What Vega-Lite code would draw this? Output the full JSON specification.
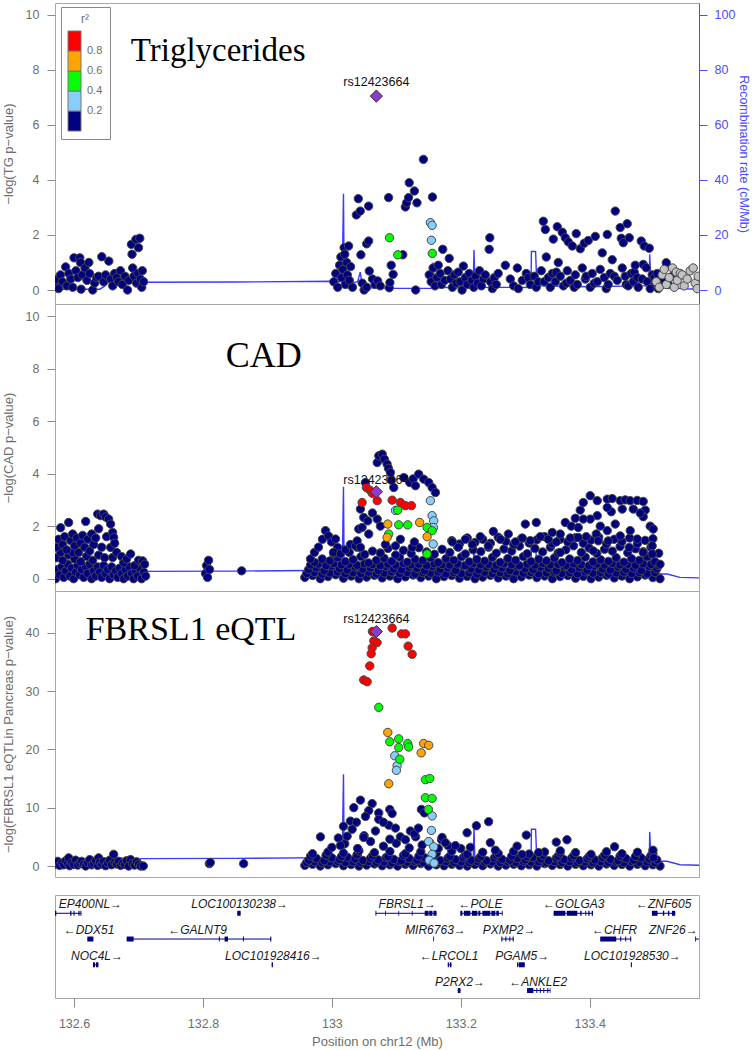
{
"$schema":"https://vega.github.io/schema/vega-lite/v6.json",
"padding":{"left":1,"top":2,"right":0,"bottom":0},
"config":{"view":{"stroke":"#a8a8a8","strokeWidth":1},"font":"Liberation Sans","axis":{"grid":false,"labelFont":"Liberation Sans","titleFont":"Liberation Sans","titleFontWeight":"normal"}},
"datasets":{
"recomb":[{"pos":132.5705,"rate":0.3},{"pos":132.64,"rate":0.3},{"pos":132.648,"rate":1.5},{"pos":132.655,"rate":3.2},{"pos":132.68,"rate":3.0},{"pos":132.7,"rate":2.9},{"pos":132.701,"rate":0.3},{"pos":132.703,"rate":2.8},{"pos":132.85,"rate":2.9},{"pos":133.0,"rate":3.2},{"pos":133.016,"rate":3.0},{"pos":133.018,"rate":35},{"pos":133.019,"rate":4.0},{"pos":133.03,"rate":2.5},{"pos":133.04,"rate":3.0},{"pos":133.044,"rate":6.5},{"pos":133.047,"rate":2.0},{"pos":133.06,"rate":0.8},{"pos":133.1,"rate":0.6},{"pos":133.155,"rate":0.6},{"pos":133.157,"rate":10},{"pos":133.159,"rate":1.0},{"pos":133.2,"rate":0.8},{"pos":133.219,"rate":0.8},{"pos":133.2205,"rate":14.5},{"pos":133.222,"rate":1.0},{"pos":133.309,"rate":0.9},{"pos":133.3095,"rate":14},{"pos":133.316,"rate":14},{"pos":133.318,"rate":1.5},{"pos":133.4,"rate":1.2},{"pos":133.474,"rate":1.5},{"pos":133.475,"rate":6},{"pos":133.477,"rate":1.5},{"pos":133.4925,"rate":1.5},{"pos":133.493,"rate":13},{"pos":133.495,"rate":2.5},{"pos":133.5,"rate":2.0},{"pos":133.505,"rate":3.0},{"pos":133.51,"rate":1.8},{"pos":133.52,"rate":1.8},{"pos":133.54,"rate":0.5},{"pos":133.5695,"rate":0.3}],
"tg":[{"pos":132.572,"p":0.2},{"pos":132.573,"p":0.39},{"pos":132.576,"p":0.05},{"pos":132.579,"p":0.55},{"pos":132.582,"p":0.3},{"pos":132.587,"p":0.84},{"pos":132.589,"p":0.15},{"pos":132.592,"p":0.6},{"pos":132.595,"p":0.4},{"pos":132.598,"p":0.1},{"pos":132.6,"p":1.17},{"pos":132.603,"p":0.7},{"pos":132.606,"p":0.45},{"pos":132.609,"p":1.17},{"pos":132.61,"p":1.0},{"pos":132.611,"p":0.03},{"pos":132.613,"p":0.55},{"pos":132.617,"p":0.8},{"pos":132.62,"p":0.35},{"pos":132.623,"p":1.0},{"pos":132.624,"p":0.6},{"pos":132.629,"p":0.0},{"pos":132.632,"p":0.25},{"pos":132.635,"p":0.45},{"pos":132.638,"p":0.5},{"pos":132.643,"p":1.21},{"pos":132.646,"p":0.3},{"pos":132.649,"p":0.55},{"pos":132.654,"p":1.05},{"pos":132.657,"p":0.4},{"pos":132.66,"p":0.15},{"pos":132.663,"p":0.6},{"pos":132.666,"p":0.45},{"pos":132.669,"p":0.3},{"pos":132.672,"p":0.7},{"pos":132.675,"p":0.2},{"pos":132.679,"p":0.5},{"pos":132.683,"p":0.0},{"pos":132.685,"p":0.35},{"pos":132.689,"p":1.66},{"pos":132.69,"p":1.3},{"pos":132.691,"p":0.8},{"pos":132.693,"p":0.5},{"pos":132.696,"p":1.84},{"pos":132.697,"p":0.25},{"pos":132.699,"p":0.6},{"pos":132.7,"p":1.54},{"pos":132.702,"p":1.88},{"pos":132.703,"p":0.4},{"pos":132.705,"p":0.1},{"pos":132.706,"p":0.7},{"pos":132.708,"p":0.3},
{"pos":133.003,"p":0.3},{"pos":133.006,"p":0.6},{"pos":133.009,"p":0.1},{"pos":133.012,"p":0.9},{"pos":133.014,"p":1.2},{"pos":133.015,"p":0.45},{"pos":133.017,"p":0.75},{"pos":133.019,"p":1.54},{"pos":133.02,"p":1.3},{"pos":133.021,"p":0.2},{"pos":133.023,"p":1.0},{"pos":133.024,"p":0.55},{"pos":133.026,"p":1.6},{"pos":133.027,"p":0.35},{"pos":133.029,"p":0.85},{"pos":133.032,"p":0.1},{"pos":133.038,"p":2.73},{"pos":133.041,"p":3.32},{"pos":133.044,"p":2.87},{"pos":133.045,"p":1.28},{"pos":133.047,"p":0.25},{"pos":133.05,"p":0.0},{"pos":133.054,"p":1.68},{"pos":133.054,"p":0.1},{"pos":133.057,"p":3.05},{"pos":133.057,"p":1.78},{"pos":133.058,"p":0.69},{"pos":133.063,"p":0.4},{"pos":133.067,"p":0.2},{"pos":133.071,"p":0.33},{"pos":133.075,"p":0.15},{"pos":133.088,"p":3.36},{"pos":133.089,"p":0.08},{"pos":133.09,"p":0.27},{"pos":133.092,"p":0.9},{"pos":133.095,"p":0.57},{"pos":133.11,"p":1.28},{"pos":133.114,"p":3.02},{"pos":133.116,"p":3.17},{"pos":133.119,"p":3.36},{"pos":133.12,"p":3.9},{"pos":133.128,"p":3.6},{"pos":133.13,"p":0.0},{"pos":133.132,"p":3.17},{"pos":133.142,"p":4.75},{"pos":133.151,"p":0.55},{"pos":133.154,"p":0.3},{"pos":133.156,"p":3.38},{"pos":133.157,"p":0.8},{"pos":133.16,"p":0.15},{"pos":133.163,"p":0.45},{"pos":133.165,"p":0.9},{"pos":133.168,"p":0.6},{"pos":133.17,"p":0.2},{"pos":133.172,"p":1.48},{"pos":133.175,"p":0.35},{"pos":133.18,"p":0.7},{"pos":133.182,"p":1.15},{"pos":133.184,"p":0.4},{"pos":133.187,"p":0.1},{"pos":133.19,"p":0.55},{"pos":133.193,"p":0.25},{"pos":133.196,"p":0.65},{"pos":133.199,"p":0.3},{"pos":133.202,"p":0.0},{"pos":133.204,"p":0.87},{"pos":133.207,"p":0.45},{"pos":133.21,"p":0.2},{"pos":133.213,"p":0.6},{"pos":133.217,"p":0.35},{"pos":133.22,"p":0.1},{"pos":133.223,"p":0.5},{"pos":133.226,"p":0.25},{"pos":133.229,"p":0.7},{"pos":133.232,"p":0.15},{"pos":133.235,"p":0.4},{"pos":133.238,"p":0.55},{"pos":133.244,"p":1.48},{"pos":133.245,"p":1.9},{"pos":133.246,"p":0.3},{"pos":133.249,"p":0.05},{"pos":133.252,"p":0.45},{"pos":133.255,"p":0.2},{"pos":133.258,"p":0.6},
{"pos":133.2691,"p":0.9},{"pos":133.2768,"p":0.4},{"pos":133.282,"p":0.15},{"pos":133.2877,"p":0.8},{"pos":133.2892,"p":0.05},{"pos":133.2954,"p":0.35},{"pos":133.3016,"p":0.6},{"pos":133.3047,"p":0.45},{"pos":133.3078,"p":0.2},{"pos":133.314,"p":0.5},{"pos":133.3171,"p":0.1},{"pos":133.3202,"p":0.3},{"pos":133.3249,"p":0.7},{"pos":133.328,"p":2.5},{"pos":133.3295,"p":0.3},{"pos":133.3311,"p":2.2},{"pos":133.3326,"p":1.2},{"pos":133.3357,"p":0.45},{"pos":133.3388,"p":0.1},{"pos":133.3419,"p":0.6},{"pos":133.3435,"p":1.85},{"pos":133.3466,"p":0.3},{"pos":133.3481,"p":0.65},{"pos":133.3497,"p":2.3},{"pos":133.3512,"p":1.0},{"pos":133.3543,"p":0.5},{"pos":133.3574,"p":2.1},{"pos":133.359,"p":0.15},{"pos":133.3621,"p":1.9},{"pos":133.3636,"p":0.25},{"pos":133.3652,"p":0.7},{"pos":133.3667,"p":1.75},{"pos":133.3698,"p":0.35},{"pos":133.3729,"p":1.6},{"pos":133.376,"p":0.1},{"pos":133.3776,"p":0.55},{"pos":133.3791,"p":2.05},{"pos":133.3807,"p":0.2},{"pos":133.3853,"p":1.5},{"pos":133.3884,"p":0.8},{"pos":133.3915,"p":1.7},{"pos":133.3931,"p":0.4},{"pos":133.3946,"p":0.5},{"pos":133.3977,"p":1.8},{"pos":133.4008,"p":0.1},{"pos":133.4039,"p":0.6},{"pos":133.407,"p":0.25},{"pos":133.4086,"p":1.95},{"pos":133.4117,"p":0.3},{"pos":133.4163,"p":0.75},{"pos":133.4194,"p":1.35},{"pos":133.4225,"p":0.45},{"pos":133.4256,"p":0.05},{"pos":133.4272,"p":2.02},{"pos":133.4287,"p":0.2},{"pos":133.4318,"p":0.6},{"pos":133.4349,"p":1.1},{"pos":133.438,"p":0.5},{"pos":133.4396,"p":2.87},{"pos":133.4427,"p":0.35},{"pos":133.4473,"p":2.27},{"pos":133.4489,"p":1.88},{"pos":133.4504,"p":0.8},{"pos":133.452,"p":1.72},{"pos":133.4551,"p":0.5},{"pos":133.4566,"p":0.2},{"pos":133.4582,"p":2.41},{"pos":133.4597,"p":0.15},{"pos":133.4613,"p":1.9},{"pos":133.4644,"p":0.6},{"pos":133.4675,"p":0.3},{"pos":133.469,"p":0.65},{"pos":133.4706,"p":0.9},{"pos":133.4737,"p":0.45},{"pos":133.4752,"p":0.1},{"pos":133.4799,"p":1.78},{"pos":133.4814,"p":0.4},{"pos":133.483,"p":0.93},{"pos":133.4845,"p":1.6},{"pos":133.4876,"p":0.81},{"pos":133.4892,"p":0.3},{"pos":133.4923,"p":1.52},{"pos":133.4938,"p":0.05},{"pos":133.4969,"p":0.55},{"pos":133.5,"p":0.45},{"pos":133.5016,"p":0.25},{"pos":133.5047,"p":0.6},{"pos":133.5062,"p":0.05},{"pos":133.5093,"p":0.15},{"pos":133.514,"p":0.4},{"pos":133.5187,"p":0.99},{"pos":133.5218,"p":0.2},{"pos":133.528,"p":0.5},
{"pos":133.5031,"p":0.3,"ld":"NA"},{"pos":133.5078,"p":0.1,"ld":"NA"},{"pos":133.5124,"p":0.55,"ld":"NA"},{"pos":133.5155,"p":0.75,"ld":"NA"},{"pos":133.519,"p":0.2,"ld":"NA"},{"pos":133.5233,"p":0.45,"ld":"NA"},{"pos":133.5285,"p":0.8,"ld":"NA"},{"pos":133.5311,"p":0.1,"ld":"NA"},{"pos":133.5342,"p":0.65,"ld":"NA"},{"pos":133.5357,"p":0.35,"ld":"NA"},{"pos":133.5403,"p":0.6,"ld":"NA"},{"pos":133.5434,"p":0.55,"ld":"NA"},{"pos":133.5465,"p":0.15,"ld":"NA"},{"pos":133.5512,"p":0.4,"ld":"NA"},{"pos":133.5558,"p":0.7,"ld":"NA"},{"pos":133.5605,"p":0.8,"ld":"NA"},{"pos":133.5636,"p":0.25,"ld":"NA"},{"pos":133.5667,"p":0.05,"ld":"NA"},{"pos":133.5682,"p":0.5,"ld":"NA"}],
"tg_ld":[{"pos":133.1528,"p":2.45,"r2":0.3},{"pos":133.1555,"p":2.35,"r2":0.3},{"pos":133.1544,"p":1.81,"r2":0.3},{"pos":133.0893,"p":1.9,"r2":0.5},{"pos":133.1022,"p":1.28,"r2":0.5},{"pos":133.1558,"p":1.33,"r2":0.5}],
"cad":[{"pos":132.5716,"p":0.0},{"pos":132.5747,"p":0.35},{"pos":132.5778,"p":0.15},{"pos":132.5809,"p":0.45},{"pos":132.584,"p":0.05},{"pos":132.5871,"p":0.3},{"pos":132.5902,"p":0.55},{"pos":132.5933,"p":0.1},{"pos":132.5964,"p":0.4},{"pos":132.5995,"p":0.0},{"pos":132.6026,"p":0.25},{"pos":132.6057,"p":0.5},{"pos":132.6088,"p":0.15},{"pos":132.6119,"p":0.35},{"pos":132.615,"p":0.05},{"pos":132.6181,"p":0.45},{"pos":132.6212,"p":0.2},{"pos":132.6243,"p":0.55},{"pos":132.6274,"p":0.0},{"pos":132.6305,"p":0.3},{"pos":132.6336,"p":0.1},{"pos":132.6367,"p":0.45},{"pos":132.6398,"p":0.25},{"pos":132.6429,"p":0.05},{"pos":132.646,"p":0.5},{"pos":132.6491,"p":0.2},{"pos":132.6522,"p":0.35},{"pos":132.6553,"p":0.0},{"pos":132.6584,"p":0.45},{"pos":132.6615,"p":0.15},{"pos":132.6646,"p":0.3},{"pos":132.6677,"p":0.05},{"pos":132.6708,"p":0.4},{"pos":132.6739,"p":0.2},{"pos":132.677,"p":0.0},{"pos":132.6801,"p":0.35},{"pos":132.6832,"p":0.1},{"pos":132.6863,"p":0.45},{"pos":132.6894,"p":0.2},{"pos":132.6925,"p":0.0},{"pos":132.6956,"p":0.3},{"pos":132.6987,"p":0.1},{"pos":132.7018,"p":0.4},{"pos":132.7049,"p":0.0},{"pos":132.708,"p":0.25},{"pos":132.7111,"p":0.1},
{"pos":132.5731,"p":0.8},{"pos":132.5824,"p":0.7},{"pos":132.5917,"p":0.9},{"pos":132.601,"p":0.75},{"pos":132.6103,"p":0.65},{"pos":132.6196,"p":0.85},{"pos":132.6289,"p":0.7},{"pos":132.6382,"p":0.9},{"pos":132.6475,"p":0.8},{"pos":132.5793,"p":1.0},{"pos":132.5979,"p":1.0},{"pos":132.6227,"p":1.1},
{"pos":132.5731,"p":1.2},{"pos":132.5762,"p":1.5},{"pos":132.5793,"p":1.94},{"pos":132.5824,"p":1.3},{"pos":132.5855,"p":1.6},{"pos":132.5886,"p":1.1},{"pos":132.5917,"p":2.14},{"pos":132.5948,"p":1.45},{"pos":132.5979,"p":1.7},{"pos":132.601,"p":1.25},{"pos":132.6041,"p":1.55},{"pos":132.6072,"p":1.0},{"pos":132.6103,"p":1.35},{"pos":132.6134,"p":1.65},{"pos":132.6165,"p":1.2},{"pos":132.6181,"p":2.18},{"pos":132.6212,"p":1.5},{"pos":132.6243,"p":1.05},{"pos":132.6274,"p":1.7},{"pos":132.6305,"p":1.3},{"pos":132.6336,"p":1.55},{"pos":132.6367,"p":2.46},{"pos":132.6382,"p":1.9},{"pos":132.6413,"p":2.4},{"pos":132.6429,"p":1.2},{"pos":132.646,"p":2.46},{"pos":132.6491,"p":2.35},{"pos":132.6506,"p":1.6},{"pos":132.6537,"p":2.27},{"pos":132.6568,"p":2.08},{"pos":132.6599,"p":1.76},{"pos":132.6615,"p":1.57},{"pos":132.6568,"p":1.19},{"pos":132.6599,"p":0.81},{"pos":132.663,"p":1.35},{"pos":132.6661,"p":1.0},{"pos":132.6739,"p":0.84},{"pos":132.677,"p":0.6},{"pos":132.6816,"p":0.75},{"pos":132.6878,"p":0.94},{"pos":132.694,"p":0.5},{"pos":132.7002,"p":0.7},{"pos":132.7064,"p":0.68},{"pos":132.7095,"p":0.55},
{"pos":132.804,"p":0.2},{"pos":132.8056,"p":0.5},{"pos":132.8071,"p":0.05},{"pos":132.8087,"p":0.7},{"pos":132.8102,"p":0.35},{"pos":132.86,"p":0.3},
{"pos":132.958,"p":0.05},{"pos":132.97,"p":0.12},{"pos":132.982,"p":0.0},{"pos":132.994,"p":0.08},{"pos":133.006,"p":0.15},{"pos":133.018,"p":0.02},{"pos":133.03,"p":0.1},{"pos":133.042,"p":0.0},{"pos":133.054,"p":0.06},{"pos":133.066,"p":0.13},{"pos":133.078,"p":0.03},{"pos":133.09,"p":0.1},{"pos":133.102,"p":0.0},{"pos":133.114,"p":0.07},{"pos":133.126,"p":0.14},{"pos":133.138,"p":0.04},{"pos":133.15,"p":0.1},{"pos":133.162,"p":0.0},{"pos":133.174,"p":0.08},{"pos":133.186,"p":0.12},{"pos":133.198,"p":0.02},{"pos":133.21,"p":0.09},{"pos":133.222,"p":0.0},{"pos":133.234,"p":0.06},{"pos":133.246,"p":0.13},{"pos":133.258,"p":0.03},{"pos":133.27,"p":0.1},{"pos":133.282,"p":0.0},{"pos":133.294,"p":0.07},{"pos":133.306,"p":0.14},{"pos":133.318,"p":0.04},{"pos":133.33,"p":0.1},{"pos":133.342,"p":0.0},{"pos":133.354,"p":0.08},{"pos":133.366,"p":0.12},{"pos":133.378,"p":0.02},{"pos":133.39,"p":0.09},{"pos":133.402,"p":0.0},{"pos":133.414,"p":0.06},{"pos":133.426,"p":0.13},{"pos":133.438,"p":0.03},{"pos":133.45,"p":0.1},{"pos":133.462,"p":0.0},{"pos":133.474,"p":0.07},{"pos":133.486,"p":0.14},{"pos":133.498,"p":0.04},{"pos":133.509,"p":0.0},
{"pos":132.961,"p":0.2},{"pos":132.973,"p":0.24},{"pos":132.985,"p":0.18},{"pos":132.997,"p":0.22},{"pos":133.009,"p":0.26},{"pos":133.021,"p":0.19},{"pos":133.033,"p":0.23},{"pos":133.045,"p":0.2},{"pos":133.057,"p":0.25},{"pos":133.069,"p":0.18},{"pos":133.081,"p":0.22},{"pos":133.093,"p":0.26},{"pos":133.105,"p":0.2},{"pos":133.117,"p":0.24},{"pos":133.129,"p":0.18},{"pos":133.141,"p":0.23},{"pos":133.153,"p":0.21},{"pos":133.165,"p":0.26},{"pos":133.177,"p":0.19},{"pos":133.189,"p":0.24},{"pos":133.201,"p":0.2},{"pos":133.213,"p":0.22},{"pos":133.225,"p":0.18},{"pos":133.237,"p":0.25},{"pos":133.249,"p":0.2},{"pos":133.261,"p":0.23},{"pos":133.273,"p":0.19},{"pos":133.285,"p":0.26},{"pos":133.297,"p":0.21},{"pos":133.309,"p":0.24},{"pos":133.321,"p":0.18},{"pos":133.333,"p":0.22},{"pos":133.345,"p":0.25},{"pos":133.357,"p":0.2},{"pos":133.369,"p":0.23},{"pos":133.381,"p":0.19},{"pos":133.393,"p":0.26},{"pos":133.405,"p":0.21},{"pos":133.417,"p":0.24},{"pos":133.429,"p":0.18},{"pos":133.441,"p":0.22},{"pos":133.453,"p":0.25},{"pos":133.465,"p":0.2},{"pos":133.477,"p":0.23},{"pos":133.489,"p":0.19},{"pos":133.501,"p":0.24},
{"pos":132.964,"p":0.35},{"pos":132.976,"p":0.42},{"pos":132.988,"p":0.3},{"pos":133.0,"p":0.48},{"pos":133.012,"p":0.38},{"pos":133.024,"p":0.33},{"pos":133.036,"p":0.45},{"pos":133.048,"p":0.36},{"pos":133.06,"p":0.41},{"pos":133.072,"p":0.31},{"pos":133.084,"p":0.47},{"pos":133.096,"p":0.37},{"pos":133.108,"p":0.34},{"pos":133.12,"p":0.44},{"pos":133.132,"p":0.39},{"pos":133.144,"p":0.3},{"pos":133.156,"p":0.46},{"pos":133.168,"p":0.35},{"pos":133.18,"p":0.42},{"pos":133.192,"p":0.32},{"pos":133.204,"p":0.48},{"pos":133.216,"p":0.37},{"pos":133.228,"p":0.33},{"pos":133.24,"p":0.45},{"pos":133.252,"p":0.36},{"pos":133.264,"p":0.41},{"pos":133.276,"p":0.31},{"pos":133.288,"p":0.47},{"pos":133.3,"p":0.38},{"pos":133.312,"p":0.34},{"pos":133.324,"p":0.44},{"pos":133.336,"p":0.39},{"pos":133.348,"p":0.3},{"pos":133.36,"p":0.46},{"pos":133.372,"p":0.35},{"pos":133.384,"p":0.42},{"pos":133.396,"p":0.32},{"pos":133.408,"p":0.48},{"pos":133.42,"p":0.37},{"pos":133.432,"p":0.33},{"pos":133.444,"p":0.45},{"pos":133.456,"p":0.36},{"pos":133.468,"p":0.41},{"pos":133.48,"p":0.31},{"pos":133.492,"p":0.47},{"pos":133.504,"p":0.38},
{"pos":132.967,"p":0.52},{"pos":132.979,"p":0.56},{"pos":132.991,"p":0.5},{"pos":133.003,"p":0.58},{"pos":133.015,"p":0.53},{"pos":133.027,"p":0.55},{"pos":133.039,"p":0.51},{"pos":133.051,"p":0.57},{"pos":133.063,"p":0.54},{"pos":133.075,"p":0.5},{"pos":133.087,"p":0.56},{"pos":133.099,"p":0.52},{"pos":133.111,"p":0.58},{"pos":133.123,"p":0.53},{"pos":133.135,"p":0.55},{"pos":133.147,"p":0.5},{"pos":133.159,"p":0.57},{"pos":133.171,"p":0.54},{"pos":133.183,"p":0.52},{"pos":133.195,"p":0.56},{"pos":133.207,"p":0.5},{"pos":133.219,"p":0.58},{"pos":133.231,"p":0.53},{"pos":133.243,"p":0.55},{"pos":133.255,"p":0.51},{"pos":133.267,"p":0.57},{"pos":133.279,"p":0.54},{"pos":133.291,"p":0.5},{"pos":133.303,"p":0.56},{"pos":133.315,"p":0.52},{"pos":133.327,"p":0.58},{"pos":133.339,"p":0.53},{"pos":133.351,"p":0.55},{"pos":133.363,"p":0.51},{"pos":133.375,"p":0.57},{"pos":133.387,"p":0.54},{"pos":133.399,"p":0.5},{"pos":133.411,"p":0.56},{"pos":133.423,"p":0.52},{"pos":133.435,"p":0.58},{"pos":133.447,"p":0.53},{"pos":133.459,"p":0.55},{"pos":133.471,"p":0.51},{"pos":133.483,"p":0.57},{"pos":133.495,"p":0.54},{"pos":133.507,"p":0.5},
{"pos":132.973,"p":0.62},{"pos":132.985,"p":0.75},{"pos":132.997,"p":0.68},{"pos":133.009,"p":0.8},{"pos":133.021,"p":0.65},{"pos":133.033,"p":0.72},{"pos":133.045,"p":0.84},{"pos":133.057,"p":0.6},{"pos":133.069,"p":0.7},{"pos":133.081,"p":0.78},{"pos":133.093,"p":0.66},{"pos":133.105,"p":0.82},{"pos":133.117,"p":0.63},{"pos":133.129,"p":0.74},{"pos":133.141,"p":0.69},{"pos":133.153,"p":0.8},{"pos":133.165,"p":0.61},{"pos":133.177,"p":0.76},{"pos":133.189,"p":0.7},{"pos":133.201,"p":0.83},{"pos":133.213,"p":0.64},{"pos":133.225,"p":0.73},{"pos":133.237,"p":0.67},{"pos":133.249,"p":0.81},{"pos":133.261,"p":0.62},{"pos":133.273,"p":0.77},{"pos":133.285,"p":0.7},{"pos":133.297,"p":0.84},{"pos":133.309,"p":0.65},{"pos":133.321,"p":0.74},{"pos":133.333,"p":0.68},{"pos":133.345,"p":0.79},{"pos":133.357,"p":0.61},{"pos":133.369,"p":0.75},{"pos":133.381,"p":0.69},{"pos":133.393,"p":0.82},{"pos":133.405,"p":0.64},{"pos":133.417,"p":0.72},{"pos":133.429,"p":0.66},{"pos":133.441,"p":0.8},{"pos":133.453,"p":0.63},{"pos":133.465,"p":0.76},{"pos":133.477,"p":0.7},{"pos":133.489,"p":0.83},{"pos":133.501,"p":0.65},{"pos":133.509,"p":0.55},
{"pos":133.003,"p":0.95},{"pos":133.015,"p":1.1},{"pos":133.027,"p":1.0},{"pos":133.039,"p":1.2},{"pos":133.051,"p":0.92},{"pos":133.063,"p":1.05},{"pos":133.075,"p":0.98},{"pos":133.087,"p":1.15},{"pos":133.099,"p":0.9},{"pos":133.111,"p":1.08},{"pos":133.123,"p":0.96},{"pos":133.135,"p":1.18},{"pos":133.147,"p":1.02},{"pos":133.159,"p":0.93},{"pos":133.171,"p":1.12},{"pos":133.183,"p":1.0},{"pos":133.195,"p":1.22},{"pos":133.207,"p":0.94},{"pos":133.219,"p":1.1},{"pos":133.231,"p":1.03},{"pos":133.243,"p":1.2},{"pos":133.255,"p":0.97},{"pos":133.267,"p":1.13},{"pos":133.279,"p":1.05},{"pos":133.291,"p":1.24},{"pos":133.303,"p":0.95},{"pos":133.315,"p":1.15},{"pos":133.327,"p":1.02},{"pos":133.339,"p":1.2},{"pos":133.351,"p":0.98},{"pos":133.363,"p":1.1},{"pos":133.375,"p":1.25},{"pos":133.387,"p":1.0},{"pos":133.399,"p":1.17},{"pos":133.411,"p":0.96},{"pos":133.423,"p":1.12},{"pos":133.435,"p":1.05},{"pos":133.447,"p":1.22},{"pos":133.459,"p":0.99},{"pos":133.471,"p":1.14},{"pos":133.483,"p":1.03},{"pos":133.495,"p":1.2},{"pos":133.507,"p":0.97},
{"pos":133.186,"p":1.45},{"pos":133.198,"p":1.32},{"pos":133.21,"p":1.55},{"pos":133.222,"p":1.38},{"pos":133.234,"p":1.5},{"pos":133.246,"p":1.35},{"pos":133.258,"p":1.58},{"pos":133.27,"p":1.42},{"pos":133.282,"p":1.3},{"pos":133.294,"p":1.52},{"pos":133.306,"p":1.36},{"pos":133.318,"p":1.48},{"pos":133.33,"p":1.6},{"pos":133.342,"p":1.33},{"pos":133.354,"p":1.5},{"pos":133.366,"p":1.4},{"pos":133.378,"p":1.56},{"pos":133.39,"p":1.35},{"pos":133.402,"p":1.47},{"pos":133.414,"p":1.58},{"pos":133.426,"p":1.32},{"pos":133.438,"p":1.5},{"pos":133.45,"p":1.41},{"pos":133.462,"p":1.55},{"pos":133.474,"p":1.34},{"pos":133.486,"p":1.46},{"pos":133.498,"p":1.52},
{"pos":133.1869,"p":1.4},{"pos":133.1962,"p":1.2},{"pos":133.2071,"p":1.5},{"pos":133.2179,"p":1.3},{"pos":133.2303,"p":1.6},{"pos":133.2427,"p":1.25},{"pos":133.2505,"p":1.8},{"pos":133.2613,"p":1.5},{"pos":133.2737,"p":1.7},{"pos":133.2846,"p":1.4},{"pos":133.2954,"p":1.55},{"pos":133.3078,"p":1.45},{"pos":133.3233,"p":1.6},{"pos":133.3357,"p":1.5},{"pos":133.3481,"p":1.4},{"pos":133.3698,"p":1.55},{"pos":133.3946,"p":1.6},{"pos":133.4101,"p":1.7},
{"pos":132.9668,"p":0.75},{"pos":132.973,"p":1.0},{"pos":132.9792,"p":1.2},{"pos":132.9854,"p":1.5},{"pos":132.9901,"p":1.83},{"pos":132.9947,"p":1.63},{"pos":132.9994,"p":1.4},{"pos":133.0056,"p":1.51},{"pos":133.0087,"p":1.19},{"pos":133.0025,"p":1.0},{"pos":133.0133,"p":0.95},{"pos":133.0211,"p":1.1},{"pos":133.0288,"p":1.3},{"pos":133.0366,"p":1.25},
{"pos":133.0392,"p":1.44},{"pos":133.0417,"p":1.89},{"pos":133.0443,"p":1.19},{"pos":133.0469,"p":1.95},{"pos":133.0494,"p":2.33},{"pos":133.0443,"p":2.65},{"pos":133.0557,"p":2.2},{"pos":133.0572,"p":1.7},{"pos":133.0521,"p":3.66},{"pos":133.0703,"p":2.27},{"pos":133.0753,"p":2.0},{"pos":133.0629,"p":2.5},
{"pos":133.0703,"p":4.42},{"pos":133.0728,"p":4.68},{"pos":133.0781,"p":4.74},{"pos":133.0815,"p":4.55},{"pos":133.0857,"p":4.36},{"pos":133.0877,"p":4.2},{"pos":133.0908,"p":4.04},{"pos":133.0924,"p":3.75},{"pos":133.096,"p":3.47},{"pos":133.1115,"p":3.85},{"pos":133.1208,"p":3.66},{"pos":133.1261,"p":3.8},{"pos":133.1296,"p":3.54},{"pos":133.1347,"p":3.98},{"pos":133.1424,"p":3.79},{"pos":133.1502,"p":3.66},{"pos":133.1555,"p":3.47},{"pos":133.1606,"p":3.28},{"pos":133.1246,"p":1.19},{"pos":133.128,"p":1.4},{"pos":133.1063,"p":1.5},{"pos":133.0986,"p":1.25},{"pos":133.0831,"p":1.3},
{"pos":133.3001,"p":2.08},{"pos":133.3171,"p":2.14},{"pos":133.3621,"p":2.14},{"pos":133.3543,"p":1.7},{"pos":133.3419,"p":1.76},{"pos":133.3822,"p":1.57},{"pos":133.4055,"p":1.06},{"pos":133.3543,"p":1.0},{"pos":133.3714,"p":2.0},{"pos":133.3776,"p":2.3},
{"pos":133.3853,"p":2.61},{"pos":133.39,"p":2.9},{"pos":133.4008,"p":3.16},{"pos":133.4117,"p":2.97},{"pos":133.4272,"p":3.03},{"pos":133.4349,"p":3.05},{"pos":133.4473,"p":2.97},{"pos":133.4551,"p":3.0},{"pos":133.4628,"p":2.97},{"pos":133.4737,"p":2.98},{"pos":133.483,"p":2.94},{"pos":133.4861,"p":2.61},{"pos":133.483,"p":2.36},{"pos":133.4783,"p":2.5},{"pos":133.4675,"p":2.65},{"pos":133.4504,"p":2.65},{"pos":133.4334,"p":2.55},{"pos":133.4272,"p":2.71},{"pos":133.4117,"p":2.4},{"pos":133.4008,"p":2.27},{"pos":133.39,"p":2.27},{"pos":133.3822,"p":1.95},{"pos":133.4163,"p":2.0},{"pos":133.4272,"p":1.83},{"pos":133.4396,"p":2.08},{"pos":133.4473,"p":1.63},{"pos":133.4628,"p":1.83},{"pos":133.4737,"p":1.51},{"pos":133.4938,"p":2.0},{"pos":133.4985,"p":1.89},{"pos":133.4132,"p":1.44},{"pos":133.4287,"p":1.44},{"pos":133.4613,"p":1.19},{"pos":133.4969,"p":1.25},{"pos":133.483,"p":1.0},{"pos":133.4969,"p":0.94}],
"cad_ld":[{"pos":133.1528,"p":2.97,"r2":0.3},{"pos":133.1555,"p":2.4,"r2":0.3},{"pos":133.158,"p":2.2,"r2":0.3},{"pos":133.1575,"p":1.95,"r2":0.3},{"pos":133.1571,"p":1.32,"r2":0.3},{"pos":133.0986,"p":2.6,"r2":0.3},
{"pos":133.1022,"p":2.61,"r2":0.5},{"pos":133.1037,"p":2.05,"r2":0.5},{"pos":133.1177,"p":2.05,"r2":0.5},{"pos":133.0882,"p":1.7,"r2":0.5},{"pos":133.1477,"p":1.95,"r2":0.5},{"pos":133.1555,"p":1.83,"r2":0.5},{"pos":133.1477,"p":0.94,"r2":0.5},
{"pos":133.0867,"p":2.08,"r2":0.7},{"pos":133.0857,"p":1.57,"r2":0.7},{"pos":133.1362,"p":2.14,"r2":0.7},{"pos":133.1477,"p":1.6,"r2":0.7},
{"pos":133.0536,"p":3.47,"r2":0.9},{"pos":133.0598,"p":3.35,"r2":0.9},{"pos":133.0629,"p":3.25,"r2":0.9},{"pos":133.0703,"p":2.97,"r2":0.9},{"pos":133.0469,"p":2.9,"r2":0.9},{"pos":133.0935,"p":2.99,"r2":0.9},{"pos":133.1063,"p":2.9,"r2":0.9},{"pos":133.1141,"p":2.78,"r2":0.9},{"pos":133.1234,"p":2.78,"r2":0.9}],
"eqtl":[{"pos":132.5716,"p":0.3},{"pos":132.5747,"p":0.8},{"pos":132.5778,"p":0.1},{"pos":132.5809,"p":0.5},{"pos":132.584,"p":0.2},{"pos":132.5871,"p":0.9},{"pos":132.5902,"p":0.4},{"pos":132.5917,"p":1.4},{"pos":132.5933,"p":0.05},{"pos":132.5964,"p":0.6},{"pos":132.5995,"p":0.25},{"pos":132.6026,"p":1.0},{"pos":132.6057,"p":0.15},{"pos":132.6088,"p":0.5},{"pos":132.6119,"p":0.8},{"pos":132.615,"p":0.3},{"pos":132.6181,"p":0.0},{"pos":132.6212,"p":0.6},{"pos":132.6243,"p":1.1},{"pos":132.6274,"p":0.2},{"pos":132.6305,"p":0.45},{"pos":132.6336,"p":0.9},{"pos":132.6367,"p":0.1},{"pos":132.6382,"p":1.4},{"pos":132.6398,"p":0.6},{"pos":132.6429,"p":0.3},{"pos":132.646,"p":0.75},{"pos":132.6491,"p":0.05},{"pos":132.6522,"p":0.5},{"pos":132.6553,"p":1.0},{"pos":132.6584,"p":0.2},{"pos":132.6615,"p":2.0},{"pos":132.663,"p":0.6},{"pos":132.6661,"p":0.35},{"pos":132.6692,"p":0.8},{"pos":132.6723,"p":0.1},{"pos":132.6754,"p":0.5},{"pos":132.6785,"p":0.25},{"pos":132.6816,"p":0.9},{"pos":132.6847,"p":0.0},{"pos":132.6878,"p":1.1},{"pos":132.6909,"p":0.4},{"pos":132.694,"p":0.15},{"pos":132.6971,"p":0.7},{"pos":132.7002,"p":0.3},{"pos":132.7033,"p":0.0},{"pos":132.7075,"p":0.0},
{"pos":132.8099,"p":0.4},{"pos":132.8114,"p":0.6},{"pos":132.8631,"p":0.4},
{"pos":132.958,"p":0.1},{"pos":132.97,"p":0.3},{"pos":132.982,"p":0.0},{"pos":132.994,"p":0.2},{"pos":133.006,"p":0.4},{"pos":133.018,"p":0.05},{"pos":133.03,"p":0.25},{"pos":133.042,"p":0.0},{"pos":133.054,"p":0.15},{"pos":133.066,"p":0.35},{"pos":133.078,"p":0.05},{"pos":133.09,"p":0.2},{"pos":133.102,"p":0.0},{"pos":133.114,"p":0.3},{"pos":133.126,"p":0.1},{"pos":133.138,"p":0.4},{"pos":133.15,"p":0.0},{"pos":133.162,"p":0.2},{"pos":133.174,"p":0.05},{"pos":133.186,"p":0.3},{"pos":133.198,"p":0.1},{"pos":133.21,"p":0.0},{"pos":133.222,"p":0.25},{"pos":133.234,"p":0.05},{"pos":133.246,"p":0.35},{"pos":133.258,"p":0.0},{"pos":133.27,"p":0.15},{"pos":133.282,"p":0.3},{"pos":133.294,"p":0.05},{"pos":133.306,"p":0.2},{"pos":133.318,"p":0.0},{"pos":133.33,"p":0.4},{"pos":133.342,"p":0.1},{"pos":133.354,"p":0.25},{"pos":133.366,"p":0.0},{"pos":133.378,"p":0.3},{"pos":133.39,"p":0.05},{"pos":133.402,"p":0.2},{"pos":133.414,"p":0.0},{"pos":133.426,"p":0.35},{"pos":133.438,"p":0.1},{"pos":133.45,"p":0.25},{"pos":133.462,"p":0.0},{"pos":133.474,"p":0.3},{"pos":133.486,"p":0.05},{"pos":133.498,"p":0.2},{"pos":133.509,"p":0.0},
{"pos":132.961,"p":0.6},{"pos":132.973,"p":0.75},{"pos":132.985,"p":0.55},{"pos":132.997,"p":0.7},{"pos":133.009,"p":0.8},{"pos":133.021,"p":0.6},{"pos":133.033,"p":0.72},{"pos":133.045,"p":0.58},{"pos":133.057,"p":0.78},{"pos":133.069,"p":0.62},{"pos":133.081,"p":0.7},{"pos":133.093,"p":0.55},{"pos":133.105,"p":0.75},{"pos":133.117,"p":0.65},{"pos":133.129,"p":0.8},{"pos":133.141,"p":0.6},{"pos":133.153,"p":0.7},{"pos":133.165,"p":0.58},{"pos":133.177,"p":0.76},{"pos":133.189,"p":0.62},{"pos":133.201,"p":0.72},{"pos":133.213,"p":0.55},{"pos":133.225,"p":0.78},{"pos":133.237,"p":0.64},{"pos":133.249,"p":0.7},{"pos":133.261,"p":0.58},{"pos":133.273,"p":0.75},{"pos":133.285,"p":0.6},{"pos":133.297,"p":0.8},{"pos":133.309,"p":0.66},{"pos":133.321,"p":0.72},{"pos":133.333,"p":0.56},{"pos":133.345,"p":0.74},{"pos":133.357,"p":0.62},{"pos":133.369,"p":0.78},{"pos":133.381,"p":0.6},{"pos":133.393,"p":0.7},{"pos":133.405,"p":0.55},{"pos":133.417,"p":0.76},{"pos":133.429,"p":0.64},{"pos":133.441,"p":0.72},{"pos":133.453,"p":0.58},{"pos":133.465,"p":0.8},{"pos":133.477,"p":0.62},{"pos":133.489,"p":0.7},{"pos":133.501,"p":0.6},
{"pos":132.964,"p":1.0},{"pos":132.976,"p":1.3},{"pos":132.988,"p":0.9},{"pos":133.0,"p":1.4},{"pos":133.012,"p":1.1},{"pos":133.024,"p":1.5},{"pos":133.036,"p":1.2},{"pos":133.048,"p":0.95},{"pos":133.06,"p":1.35},{"pos":133.072,"p":1.05},{"pos":133.084,"p":1.45},{"pos":133.096,"p":1.15},{"pos":133.108,"p":0.9},{"pos":133.12,"p":1.3},{"pos":133.132,"p":1.0},{"pos":133.144,"p":1.4},{"pos":133.156,"p":1.2},{"pos":133.168,"p":0.95},{"pos":133.18,"p":1.35},{"pos":133.192,"p":1.1},{"pos":133.204,"p":1.45},{"pos":133.216,"p":1.0},{"pos":133.228,"p":1.25},{"pos":133.24,"p":0.9},{"pos":133.252,"p":1.4},{"pos":133.264,"p":1.15},{"pos":133.276,"p":1.0},{"pos":133.288,"p":1.3},{"pos":133.3,"p":1.05},{"pos":133.312,"p":1.45},{"pos":133.324,"p":1.2},{"pos":133.336,"p":0.9},{"pos":133.348,"p":1.35},{"pos":133.36,"p":1.1},{"pos":133.372,"p":1.4},{"pos":133.384,"p":0.95},{"pos":133.396,"p":1.25},{"pos":133.408,"p":1.05},{"pos":133.42,"p":1.45},{"pos":133.432,"p":1.15},{"pos":133.444,"p":0.9},{"pos":133.456,"p":1.3},{"pos":133.468,"p":1.0},{"pos":133.48,"p":1.4},{"pos":133.492,"p":1.2},{"pos":133.504,"p":1.05},
{"pos":132.967,"p":1.7},{"pos":132.991,"p":1.85},{"pos":133.015,"p":1.65},{"pos":133.039,"p":1.9},{"pos":133.063,"p":1.75},{"pos":133.087,"p":1.6},{"pos":133.111,"p":1.8},{"pos":133.135,"p":1.7},{"pos":133.159,"p":1.88},{"pos":133.183,"p":1.65},{"pos":133.207,"p":1.78},{"pos":133.231,"p":1.62},{"pos":133.255,"p":1.85},{"pos":133.279,"p":1.7},{"pos":133.303,"p":1.6},{"pos":133.327,"p":1.82},{"pos":133.351,"p":1.68},{"pos":133.375,"p":1.75},{"pos":133.399,"p":1.62},{"pos":133.423,"p":1.86},{"pos":133.447,"p":1.7},{"pos":133.471,"p":1.64},{"pos":133.495,"p":1.8},
{"pos":132.97,"p":2.1},{"pos":132.994,"p":2.4},{"pos":133.018,"p":2.2},{"pos":133.042,"p":2.6},{"pos":133.066,"p":2.3},{"pos":133.09,"p":2.5},{"pos":133.114,"p":2.1},{"pos":133.138,"p":2.45},{"pos":133.162,"p":2.2},{"pos":133.186,"p":2.55},{"pos":133.21,"p":2.0},{"pos":133.234,"p":2.35},{"pos":133.258,"p":2.15},{"pos":133.282,"p":2.5},{"pos":133.306,"p":2.05},{"pos":133.33,"p":2.4},{"pos":133.354,"p":2.2},{"pos":133.378,"p":2.3},{"pos":133.402,"p":2.0},{"pos":133.426,"p":2.45},{"pos":133.45,"p":2.1},{"pos":133.474,"p":2.35},{"pos":133.498,"p":2.15},
{"pos":133.0,"p":3.2},{"pos":133.02,"p":3.8},{"pos":133.04,"p":3.0},{"pos":133.06,"p":4.2},{"pos":133.08,"p":3.4},{"pos":133.1,"p":3.9},{"pos":133.12,"p":3.1},{"pos":133.14,"p":3.6},{"pos":133.165,"p":3.0},{"pos":133.18,"p":3.5},{"pos":133.2,"p":3.0},{"pos":133.01,"p":4.8},{"pos":133.05,"p":5.2},{"pos":133.09,"p":4.6},{"pos":133.13,"p":5.0},{"pos":133.17,"p":4.5},
{"pos":133.0443,"p":11.3},{"pos":133.0625,"p":10.7},{"pos":133.034,"p":10.0},{"pos":133.0572,"p":9.5},{"pos":133.0727,"p":9.1},{"pos":133.0898,"p":9.7},{"pos":133.0935,"p":9.0},{"pos":133.0288,"p":7.7},{"pos":133.0727,"p":8.0},{"pos":133.0315,"p":6.3},{"pos":133.0882,"p":7.0},{"pos":133.0676,"p":6.0},{"pos":132.9823,"p":5.0},{"pos":133.1389,"p":9.7},{"pos":133.1436,"p":9.1},{"pos":133.171,"p":4.9},{"pos":133.2097,"p":5.7},{"pos":133.2242,"p":6.9},{"pos":133.2432,"p":7.6},{"pos":133.2458,"p":4.0},{"pos":133.1218,"p":6.0},{"pos":133.0237,"p":5.1},{"pos":133.0494,"p":4.9},{"pos":133.0133,"p":3.5},{"pos":133.018,"p":6.8},{"pos":133.0381,"p":7.5},{"pos":133.0521,"p":8.5},{"pos":133.0799,"p":7.5},{"pos":133.0986,"p":6.5},{"pos":133.1063,"p":5.0},{"pos":133.1141,"p":4.5},{"pos":133.128,"p":5.5},{"pos":133.1342,"p":6.5},{"pos":133.1761,"p":4.0},{"pos":133.1916,"p":3.5},{"pos":133.2148,"p":3.2},
{"pos":133.2536,"p":2.7},{"pos":133.2873,"p":3.4},{"pos":133.3016,"p":5.3},{"pos":133.3481,"p":4.1},{"pos":133.3647,"p":4.5},{"pos":133.3543,"p":2.6},{"pos":133.4385,"p":3.3},{"pos":133.4981,"p":2.7},{"pos":133.499,"p":1.4},{"pos":133.3207,"p":2.3},{"pos":133.2949,"p":2.0}],
"eqtl_ld":[{"pos":133.0975,"p":18.9,"r2":0.3},{"pos":133.1012,"p":17.2,"r2":0.3},{"pos":133.1001,"p":16.4,"r2":0.3},{"pos":133.1555,"p":8.6,"r2":0.3},{"pos":133.1544,"p":6.1,"r2":0.3},{"pos":133.1502,"p":4.2,"r2":0.3},{"pos":133.158,"p":3.3,"r2":0.3},{"pos":133.1555,"p":2.0,"r2":0.3},{"pos":133.151,"p":1.0,"r2":0.3},{"pos":133.1586,"p":0.5,"r2":0.3},
{"pos":133.0727,"p":27.2,"r2":0.5},{"pos":133.0898,"p":21.3,"r2":0.5},{"pos":133.1037,"p":21.8,"r2":0.5},{"pos":133.1037,"p":20.3,"r2":0.5},{"pos":133.1177,"p":21.0,"r2":0.5},{"pos":133.1192,"p":20.4,"r2":0.5},{"pos":133.1053,"p":18.3,"r2":0.5},{"pos":133.1451,"p":14.8,"r2":0.5},{"pos":133.1518,"p":15.0,"r2":0.5},{"pos":133.1451,"p":11.7,"r2":0.5},{"pos":133.1555,"p":11.6,"r2":0.5},{"pos":133.1497,"p":9.7,"r2":0.5},
{"pos":133.0867,"p":22.9,"r2":0.7},{"pos":133.1424,"p":21.0,"r2":0.7},{"pos":133.1502,"p":20.7,"r2":0.7},{"pos":133.1385,"p":19.4,"r2":0.7},{"pos":133.0882,"p":14.1,"r2":0.7},
{"pos":133.0629,"p":40.2,"r2":0.9},{"pos":133.0935,"p":40.8,"r2":0.9},{"pos":133.108,"p":39.8,"r2":0.9},{"pos":133.1141,"p":39.8,"r2":0.9},{"pos":133.065,"p":38.6,"r2":0.9},{"pos":133.0701,"p":38.3,"r2":0.9},{"pos":133.0625,"p":37.4,"r2":0.9},{"pos":133.061,"p":36.4,"r2":0.9},{"pos":133.1183,"p":37.7,"r2":0.9},{"pos":133.1245,"p":36.3,"r2":0.9},{"pos":133.0588,"p":34.3,"r2":0.9},{"pos":133.0494,"p":31.9,"r2":0.9},{"pos":133.0547,"p":31.6,"r2":0.9}],
"genes":[{"gene":"EP400NL","start":132.54,"end":132.6114,"row":1,"lpos":132.6254,"label":"EP400NL→"},{"gene":"LOC100130238","start":132.8533,"end":132.8584,"row":1,"lpos":132.8569,"label":"LOC100130238→"},{"gene":"FBRSL1","start":133.0677,"end":133.1623,"row":1,"lpos":133.1169,"label":"FBRSL1→"},{"gene":"POLE","start":133.1993,"end":133.2649,"row":1,"lpos":133.2305,"label":"←POLE"},{"gene":"GOLGA3","start":133.344,"end":133.405,"row":1,"lpos":133.3752,"label":"←GOLGA3"},{"gene":"ZNF605","start":133.4965,"end":133.5326,"row":1,"lpos":133.5147,"label":"←ZNF605"},
{"gene":"DDX51","start":132.6207,"end":132.63,"row":2,"lpos":132.6232,"label":"←DDX51"},{"gene":"GALNT9","start":132.6817,"end":132.906,"row":2,"lpos":132.7917,"label":"←GALNT9"},{"gene":"MIR6763","start":133.1573,"end":133.1585,"row":2,"lpos":133.1607,"label":"MIR6763→"},{"gene":"PXMP2","start":133.2629,"end":133.2821,"row":2,"lpos":133.275,"label":"PXMP2→"},{"gene":"CHFR","start":133.4163,"end":133.4643,"row":2,"lpos":133.4385,"label":"←CHFR"},{"gene":"ZNF26","start":133.5636,"end":133.6,"row":2,"lpos":133.5297,"label":"ZNF26→"},
{"gene":"NOC4L","start":132.6294,"end":132.6378,"row":3,"lpos":132.6356,"label":"NOC4L→"},{"gene":"LOC101928416","start":132.9066,"end":132.9086,"row":3,"lpos":132.9093,"label":"LOC101928416→"},{"gene":"LRCOL1","start":133.1798,"end":133.1855,"row":3,"lpos":133.182,"label":"←LRCOL1"},{"gene":"PGAM5","start":133.2874,"end":133.2992,"row":3,"lpos":133.2952,"label":"PGAM5→"},{"gene":"LOC101928530","start":133.4638,"end":133.4654,"row":3,"lpos":133.4662,"label":"LOC101928530→"},
{"gene":"P2RX2","start":133.1953,"end":133.1995,"row":4,"lpos":133.1987,"label":"P2RX2→"},{"gene":"ANKLE2","start":133.3028,"end":133.339,"row":4,"lpos":133.32,"label":"←ANKLE2"}],
"exons":[{"start":132.5705,"end":132.5725,"row":1},{"start":132.594,"end":132.596,"row":1},{"start":132.5992,"end":132.6008,"row":1},{"start":132.6068,"end":132.6086,"row":1},{"start":132.61,"end":132.6114,"row":1},{"start":132.8533,"end":132.8584,"row":1},
{"start":133.0677,"end":133.069,"row":1},{"start":133.0826,"end":133.0838,"row":1},{"start":133.1032,"end":133.1044,"row":1},{"start":133.124,"end":133.1252,"row":1},{"start":133.144,"end":133.15,"row":1},{"start":133.151,"end":133.156,"row":1},{"start":133.1575,"end":133.1623,"row":1},
{"start":133.1993,"end":133.2024,"row":1},{"start":133.2048,"end":133.2148,"row":1},{"start":133.2172,"end":133.2257,"row":1},{"start":133.2272,"end":133.2303,"row":1},{"start":133.2334,"end":133.2458,"row":1},{"start":133.2474,"end":133.2536,"row":1},{"start":133.2551,"end":133.259,"row":1},{"start":133.2636,"end":133.2649,"row":1},
{"start":133.344,"end":133.3621,"row":1},{"start":133.3644,"end":133.3807,"row":1},{"start":133.3853,"end":133.3874,"row":1},{"start":133.3931,"end":133.3946,"row":1},{"start":133.3977,"end":133.3997,"row":1},{"start":133.4031,"end":133.405,"row":1},
{"start":133.4965,"end":133.5052,"row":1},{"start":133.5135,"end":133.5156,"row":1},{"start":133.5213,"end":133.5234,"row":1},{"start":133.5275,"end":133.5326,"row":1},
{"start":132.6207,"end":132.63,"row":2},{"start":132.6817,"end":132.6925,"row":2},{"start":132.8247,"end":132.8262,"row":2},{"start":132.8336,"end":132.8389,"row":2},{"start":132.862,"end":132.8635,"row":2},{"start":132.9044,"end":132.906,"row":2},
{"start":133.1573,"end":133.1585,"row":2},{"start":133.2629,"end":133.2645,"row":2},{"start":133.2691,"end":133.2707,"row":2},{"start":133.2753,"end":133.2768,"row":2},{"start":133.2805,"end":133.2821,"row":2},
{"start":133.4163,"end":133.4411,"row":2},{"start":133.4473,"end":133.4489,"row":2},{"start":133.4551,"end":133.4566,"row":2},{"start":133.4628,"end":133.4643,"row":2},{"start":133.5636,"end":133.565,"row":2},
{"start":132.6294,"end":132.6325,"row":3},{"start":132.634,"end":132.6378,"row":3},{"start":132.9066,"end":132.9086,"row":3},{"start":133.1798,"end":133.1815,"row":3},{"start":133.183,"end":133.1855,"row":3},{"start":133.2874,"end":133.289,"row":3},{"start":133.29,"end":133.2992,"row":3},{"start":133.4638,"end":133.4654,"row":3},
{"start":133.1953,"end":133.1995,"row":4},{"start":133.3028,"end":133.3126,"row":4},{"start":133.3172,"end":133.3187,"row":4},{"start":133.3226,"end":133.3241,"row":4},{"start":133.328,"end":133.3295,"row":4},{"start":133.3342,"end":133.3357,"row":4},{"start":133.338,"end":133.339,"row":4}]
},
"bounds":"flush",
"spacing":0,
"resolve":{"scale":{"color":"independent"},"legend":{"color":"independent"}},
"vconcat":[
{"width":644,"height":301,
"encoding":{"x":{"field":"pos","type":"quantitative","scale":{"domain":[132.5705,133.5695],"nice":false,"zero":false},"axis":null}},
"resolve":{"scale":{"y":"independent"}},
"layer":[
{"data":{"name":"recomb"},"mark":{"type":"line","color":"#3b3bff","strokeWidth":1.4,"clip":true},
"encoding":{"y":{"field":"rate","type":"quantitative","scale":{"domain":[-5.09,104.36],"nice":false,"zero":false},"axis":{"orient":"right","title":"Recombination rate (cM/Mb)","values":[0,20,40,60,80,100],"tickSize":8,"labelPadding":7,"titlePadding":2,"domain":true,"domainColor":"#4a4aff","tickColor":"#4a4aff","labelColor":"#4a4aff","titleColor":"#4a4aff","labelFontSize":12.5,"titleFontSize":12.5}}}},
{"encoding":{"y":{"field":"p","type":"quantitative","scale":{"domain":[-0.509,10.436],"nice":false,"zero":false},"axis":{"orient":"left","title":"−log(TG p−value)","values":[0,2,4,6,8,10],"tickSize":8,"labelPadding":8,"titlePadding":10,"domain":false,"labelColor":"#6e6e6e","tickColor":"#8a8a8a","titleColor":"#6e6e6e","labelFontSize":12.5,"titleFontSize":13}}},
"layer":[
{"data":{"name":"tg"},"mark":{"type":"point","shape":"circle","filled":true,"size":70,"stroke":"#474747","strokeWidth":1,"opacity":1,"clip":true},"encoding":{"color":{"condition":{"test":"datum.ld === 'NA'","value":"#c2c2c2"},"value":"#000080"}}},
{"data":{"name":"tg_ld"},"mark":{"type":"point","shape":"circle","filled":true,"size":70,"stroke":"#474747","strokeWidth":1,"opacity":1,"clip":true},"encoding":{"color":{"field":"r2","type":"quantitative","scale":{"type":"threshold","domain":[0.2,0.4,0.6,0.8],"range":["#000080","#87cefa","#00ff00","#ffa500","#ff0000"]},"legend":{"type":"gradient","title":"r²","orient":"none","legendX":6,"legendY":4,"direction":"vertical","gradientLength":100,"gradientThickness":13,"labelFontSize":11,"labelColor":"#6e6e6e","titleFontSize":12,"titleFontWeight":"normal","titleColor":"#6e6e6e","titleAnchor":"middle","strokeColor":"#8a8a8a","fillColor":"white","padding":7,"labelOffset":6,"gradientStrokeColor":"#777777","gradientStrokeWidth":1}}}},
{"data":{"values":[{"snp":"rs12423664","pos":133.069,"p":7.05}]},"mark":{"type":"point","shape":"diamond","filled":true,"size":150,"fill":"#8b3dc6","stroke":"#333333","strokeWidth":1,"opacity":1}},
{"data":{"values":[{"snp":"rs12423664","pos":133.069,"p":7.05}]},"mark":{"type":"text","dy":-14,"fontSize":12.5,"color":"#111111"},"encoding":{"text":{"field":"snp"}}},
{"data":{"values":[{"label":"Triglycerides","pos":132.688,"p":8.33}]},"mark":{"type":"text","align":"left","baseline":"alphabetic","font":"Liberation Serif","fontSize":33,"color":"#000000"},"encoding":{"text":{"field":"label"}}}
]}
]},
{"width":644,"height":287,
"encoding":{"x":{"field":"pos","type":"quantitative","scale":{"domain":[132.5705,133.5695],"nice":false,"zero":false},"axis":null}},
"resolve":{"scale":{"y":"independent"}},
"layer":[
{"data":{"name":"recomb"},"mark":{"type":"line","color":"#3b3bff","strokeWidth":1.4,"clip":true},
"encoding":{"y":{"field":"rate","type":"quantitative","scale":{"domain":[-4.68,104.57],"nice":false,"zero":false},"axis":null}}},
{"encoding":{"y":{"field":"p","type":"quantitative","scale":{"domain":[-0.468,10.457],"nice":false,"zero":false},"axis":{"orient":"left","title":"−log(CAD p−value)","values":[0,2,4,6,8,10],"tickSize":8,"labelPadding":8,"titlePadding":10,"domain":false,"labelColor":"#6e6e6e","tickColor":"#8a8a8a","titleColor":"#6e6e6e","labelFontSize":12.5,"titleFontSize":13}}},
"layer":[
{"data":{"name":"cad"},"mark":{"type":"point","shape":"circle","filled":true,"size":70,"stroke":"#474747","strokeWidth":1,"opacity":1,"clip":true},"encoding":{"color":{"value":"#000080"}}},
{"data":{"name":"cad_ld"},"mark":{"type":"point","shape":"circle","filled":true,"size":70,"stroke":"#474747","strokeWidth":1,"opacity":1,"clip":true},"encoding":{"color":{"field":"r2","type":"quantitative","scale":{"type":"threshold","domain":[0.2,0.4,0.6,0.8],"range":["#000080","#87cefa","#00ff00","#ffa500","#ff0000"]},"legend":null}}},
{"data":{"values":[{"snp":"rs12423664","pos":133.069,"p":3.31}]},"mark":{"type":"point","shape":"diamond","filled":true,"size":150,"fill":"#8b3dc6","stroke":"#333333","strokeWidth":1,"opacity":1}},
{"data":{"values":[{"snp":"rs12423664","pos":133.069,"p":3.31}]},"mark":{"type":"text","dy":-12,"fontSize":12.5,"color":"#111111"},"encoding":{"text":{"field":"snp"}}},
{"data":{"values":[{"label":"CAD","pos":132.8352,"p":8.06}]},"mark":{"type":"text","align":"left","baseline":"alphabetic","font":"Liberation Serif","fontSize":36,"color":"#000000"},"encoding":{"text":{"field":"label"}}}
]}
]},
{"width":644,"height":286,
"encoding":{"x":{"field":"pos","type":"quantitative","scale":{"domain":[132.5705,133.5695],"nice":false,"zero":false},"axis":null}},
"resolve":{"scale":{"y":"independent"}},
"layer":[
{"data":{"name":"recomb"},"mark":{"type":"line","color":"#3b3bff","strokeWidth":1.4,"clip":true},
"encoding":{"y":{"field":"rate","type":"quantitative","scale":{"domain":[-4.19,104.78],"nice":false,"zero":false},"axis":null}}},
{"encoding":{"y":{"field":"p","type":"quantitative","scale":{"domain":[-1.886,47.15],"nice":false,"zero":false},"axis":{"orient":"left","title":"−log(FBRSL1 eQTLin Pancreas p−value)","values":[0,10,20,30,40],"tickSize":8,"labelPadding":8,"titlePadding":10,"domain":false,"labelColor":"#6e6e6e","tickColor":"#8a8a8a","titleColor":"#6e6e6e","labelFontSize":12.5,"titleFontSize":13}}},
"layer":[
{"data":{"name":"eqtl"},"mark":{"type":"point","shape":"circle","filled":true,"size":70,"stroke":"#474747","strokeWidth":1,"opacity":1,"clip":true},"encoding":{"color":{"value":"#000080"}}},
{"data":{"name":"eqtl_ld"},"mark":{"type":"point","shape":"circle","filled":true,"size":70,"stroke":"#474747","strokeWidth":1,"opacity":1,"clip":true},"encoding":{"color":{"field":"r2","type":"quantitative","scale":{"type":"threshold","domain":[0.2,0.4,0.6,0.8],"range":["#000080","#87cefa","#00ff00","#ffa500","#ff0000"]},"legend":null}}},
{"data":{"values":[{"snp":"rs12423664","pos":133.069,"p":40.2}]},"mark":{"type":"point","shape":"diamond","filled":true,"size":150,"fill":"#8b3dc6","stroke":"#333333","strokeWidth":1,"opacity":1}},
{"data":{"values":[{"snp":"rs12423664","pos":133.069,"p":40.2}]},"mark":{"type":"text","dy":-12.5,"fontSize":12.5,"color":"#111111"},"encoding":{"text":{"field":"snp"}}},
{"data":{"values":[{"label":"FBRSL1 eQTL","pos":132.6181,"p":38.7}]},"mark":{"type":"text","align":"left","baseline":"alphabetic","font":"Liberation Serif","fontSize":34,"color":"#000000"},"encoding":{"text":{"field":"label"}}}
]}
]},
{"width":644,"height":18,"view":{"stroke":null},"data":{"values":[]},"mark":{"type":"point","opacity":0},"encoding":{}},
{"width":644,"height":103,
"layer":[
{"data":{"name":"genes"},"mark":{"type":"rule","color":"#000080","strokeWidth":1,"clip":true},
"encoding":{"x":{"field":"start","type":"quantitative","scale":{"domain":[132.5705,133.5695],"nice":false,"zero":false},"axis":{"orient":"bottom","title":"Position on chr12 (Mb)","values":[132.6,132.8,133,133.2,133.4],"format":"~g","tickSize":9,"labelPadding":10,"titlePadding":6,"domain":false,"labelColor":"#6e6e6e","tickColor":"#8a8a8a","titleColor":"#6e6e6e","labelFontSize":12.5,"titleFontSize":13}},"x2":{"field":"end"},"y":{"field":"row","type":"quantitative","scale":{"domain":[0.29,4.29],"reverse":true,"nice":false,"zero":false},"axis":null}}},
{"data":{"name":"exons"},"mark":{"type":"rule","color":"#000080","strokeWidth":5,"clip":true},
"encoding":{"x":{"field":"start","type":"quantitative"},"x2":{"field":"end"},"y":{"field":"row","type":"quantitative"}}},
{"data":{"name":"genes"},"mark":{"type":"text","dy":-9,"fontStyle":"italic","fontSize":12,"color":"#1a1a1a"},
"encoding":{"x":{"field":"lpos","type":"quantitative"},"y":{"field":"row","type":"quantitative"},"text":{"field":"label"}}}
]}
]
}
